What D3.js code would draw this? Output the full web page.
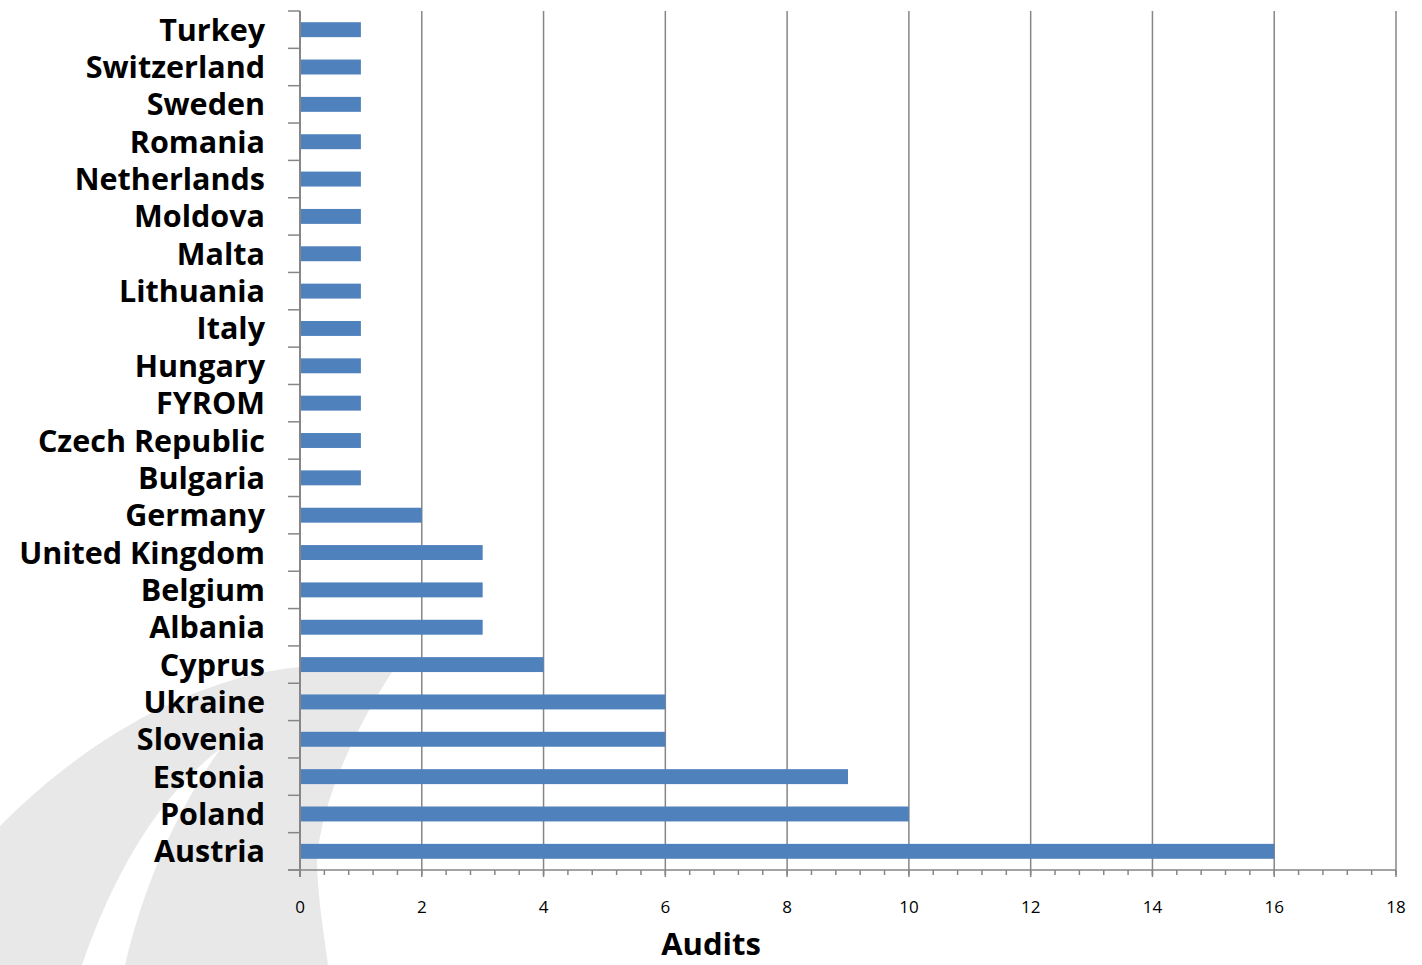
<!DOCTYPE html>
<html>
<head>
<meta charset="utf-8">
<script src="https://cdn.jsdelivr.net/npm/d3@7"></script>
<style>
  html, body { margin: 0; padding: 0; background: #fff; }
  .cat-label { font-family: "Open Sans", Lato, sans-serif; font-weight: 700; font-size: 30.5px; fill: #000; }
  .tick-label { font-family: "Open Sans", Lato, sans-serif; font-size: 17px; fill: #000; }
  .axis-title { font-family: "Open Sans", Lato, sans-serif; font-weight: 700; font-size: 31px; fill: #000; }
</style>
</head>
<body>
<svg id="chart" width="1422" height="965"></svg>
<script>
"use strict";

// Countries from top to bottom, as in the chart
const countries = ["Turkey", "Switzerland", "Sweden", "Romania", "Netherlands", "Moldova",
  "Malta", "Lithuania", "Italy", "Hungary", "FYROM", "Czech Republic", "Bulgaria",
  "Germany", "United Kingdom", "Belgium", "Albania", "Cyprus", "Ukraine", "Slovenia",
  "Estonia", "Poland", "Austria"]
const audits = [1, 1, 1, 1, 1, 1, 1, 1, 1, 1, 1, 1, 1, 2, 3, 3, 3, 4, 6, 6, 9, 10, 16]
const xTicks = [0, 2, 4, 6, 8, 10, 12, 14, 16, 18]
const axisTitle = "Audits"

const svg = d3.select("#chart")
const grid = "#868686"
const barColor = "#4F81BD"

const x = d3.scaleLinear().domain([0, 18]).range([300, 1396])
const y = d3.scaleBand().domain(countries).range([11, 870]).paddingInner(0.6).paddingOuter(0.3)

/**
 * Light grey swoosh drawn behind the chart (decoration from the slide).
 */
function background(svg) {
  svg.append("path")
      .attr("d", "M0,826 C90,735 200,676 300,667 L396,666 C360,720 320,800 317,862 C318,900 324,935 328,965 L0,965 Z")
      .attr("fill", "#e8e8e8")
  svg.append("path")
      .attr("d", "M82,965 C115,870 160,795 221,748 C180,805 145,880 125,965 Z")
      .attr("fill", "#fff")
}

/**
 * Vertical gridlines, the two axes and their ticks.
 */
function axes(svg) {
  const [top, bottom] = y.range()
  svg.selectAll(".grid")
      .data(xTicks.slice(1))
      .enter()
      .append("line")
      .attr("x1", d => x(d)).attr("x2", d => x(d))
      .attr("y1", top).attr("y2", bottom + 7)
      .attr("stroke", grid).attr("stroke-width", 1.5)

  // minor ticks every 0.4
  const minor = d3.range(0, 46).map(i => i * 0.4)
  svg.selectAll(".minor")
      .data(minor)
      .enter()
      .append("line")
      .attr("x1", d => x(d)).attr("x2", d => x(d))
      .attr("y1", bottom).attr("y2", bottom + 5)
      .attr("stroke", grid).attr("stroke-width", 1.5)

  // category ticks at band boundaries
  const bounds = countries.map(c => y(c) - y.step() * 0.3).concat([bottom])
  svg.selectAll(".ytick")
      .data(bounds)
      .enter()
      .append("line")
      .attr("x1", 288).attr("x2", x(0))
      .attr("y1", d => d).attr("y2", d => d)
      .attr("stroke", grid).attr("stroke-width", 1.5)

  svg.append("line")
      .attr("x1", x(0)).attr("x2", x(0))
      .attr("y1", top).attr("y2", bottom + 7)
      .attr("stroke", grid).attr("stroke-width", 2)
  svg.append("line")
      .attr("x1", 288).attr("x2", x(18))
      .attr("y1", bottom).attr("y2", bottom)
      .attr("stroke", grid).attr("stroke-width", 1.5)

  svg.selectAll(".tick-label")
      .data(xTicks)
      .enter()
      .append("text")
      .attr("class", "tick-label")
      .attr("x", d => x(d))
      .attr("y", 913)
      .attr("text-anchor", "middle")
      .text(d => d)

  svg.append("text")
      .attr("class", "axis-title")
      .attr("x", 711)
      .attr("y", 955)
      .attr("text-anchor", "middle")
      .text(axisTitle)
}

/**
 * Bars and the country labels.
 */
function bars(svg) {
  svg.selectAll(".bar")
      .data(countries)
      .enter()
      .append("rect")
      .attr("x", x(0) + 1)
      .attr("y", c => y(c))
      .attr("width", (_, i) => x(audits[i]) - x(0) - 1)
      .attr("height", y.bandwidth())
      .attr("fill", barColor)

  svg.selectAll(".cat-label")
      .data(countries)
      .enter()
      .append("text")
      .attr("class", "cat-label")
      .attr("x", 265)
      .attr("y", c => y(c) + y.bandwidth() / 2 + 11)
      .attr("text-anchor", "end")
      .text(c => c)
}

background(svg)
axes(svg)
bars(svg)
</script>
</body>
</html>
